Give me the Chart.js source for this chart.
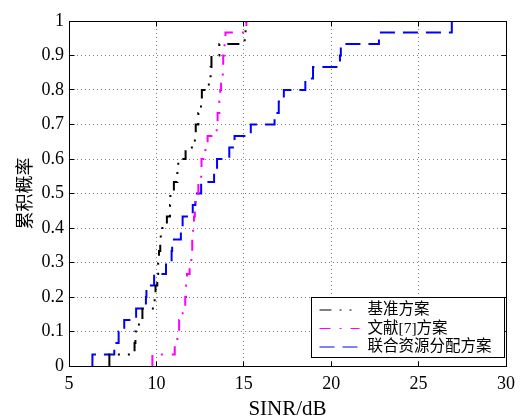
<!DOCTYPE html>
<html>
<head>
<meta charset="utf-8">
<script src="https://cdn.jsdelivr.net/npm/chart.js@4.4.1/dist/chart.umd.min.js"></script>
<style>
  html, body { margin: 0; padding: 0; background: #fff; }
  #wrap { width: 522px; height: 420px; }
</style>
</head>
<body>
<div id="wrap"><canvas id="myChart" width="522" height="420"></canvas></div>
<script>
// sorted SINR samples (dB)
const seriesNames = ['基准方案', '文献[7]方案', '联合资源分配方案'];
const baselineSinr = [7.31, 8.75, 8.8, 9.0, 9.2, 9.9, 9.95, 10.05, 10.1, 10.15,
  10.22, 10.25, 10.6, 10.78, 10.8, 11.0, 11.2, 11.25, 11.67, 12.2,
  12.25, 12.4, 12.55, 12.6, 13.0, 13.1, 13.15, 13.6, 15.05, 15.1];
const ref7Sinr = [9.77, 11.05, 11.2, 11.3, 11.5, 11.65, 11.7, 11.75, 11.9, 12.0,
  12.05, 12.1, 12.15, 12.2, 12.25, 12.4, 12.56, 12.58, 12.8, 12.93,
  13.45, 13.5, 13.6, 13.65, 13.7, 13.8, 13.82, 13.9, 13.95, 15.15];
const jointSinr = [6.34, 7.59, 7.84, 8.16, 8.84, 9.4, 9.43, 9.87, 10.55, 10.87,
  10.9, 11.4, 11.5, 12.08, 12.23, 12.56, 13.3, 13.47, 14.17, 14.47,
  15.4, 16.76, 17.0, 17.29, 18.52, 18.96, 20.5, 20.55, 22.73, 26.9];

const xTicks = [5, 10, 15, 20, 25, 30];
const yTicks = [0, 0.1, 0.2, 0.3, 0.4, 0.5, 0.6, 0.7, 0.8, 0.9, 1];
const yTickLabels = ['0', '0.1', '0.2', '0.3', '0.4', '0.5', '0.6', '0.7', '0.8', '0.9', '1'];

function cdfPoints(samples) {
  const n = samples.length;
  const pts = [{x: samples[0], y: 0}];
  samples.forEach((v, i) => pts.push({x: v, y: (i + 1) / n}));
  return pts;
}

function alignPx(p) {
  return Math.round(p - 0.5) + 0.5;
}

// matlab style box, inward ticks and the legend inside the plot
const matlabFrame = {
  id: 'matlabFrame',
  afterDatasetsDraw(chart) {
    const {ctx, chartArea: a, scales: {x, y}} = chart;
    const l = alignPx(a.left), r = alignPx(a.right), t = alignPx(a.top), b = alignPx(a.bottom);
    ctx.save();
    ctx.strokeStyle = '#000';
    ctx.lineWidth = 1;
    ctx.setLineDash([]);
    ctx.beginPath();
    xTicks.forEach(v => {
      const px = alignPx(x.getPixelForValue(v));
      ctx.moveTo(px, b); ctx.lineTo(px, b - 5);
      ctx.moveTo(px, t); ctx.lineTo(px, t + 5);
    });
    yTicks.forEach(v => {
      const py = alignPx(y.getPixelForValue(v));
      ctx.moveTo(l, py); ctx.lineTo(l + 5, py);
      ctx.moveTo(r, py); ctx.lineTo(r - 5, py);
    });
    ctx.stroke();
    ctx.strokeRect(l, t, r - l, b - t);
    ctx.restore();
  },
  afterDraw(chart) {
    const {ctx, chartArea: a} = chart;
    const w = 193, h = 60;
    const right = alignPx(a.right - 1.5), bottom = alignPx(a.bottom - 9);
    const left = right - w, top = bottom - h;
    ctx.save();
    ctx.fillStyle = '#fff';
    ctx.fillRect(left, top, w, h);
    ctx.strokeStyle = '#000';
    ctx.lineWidth = 1;
    ctx.setLineDash([]);
    ctx.strokeRect(left, top, w, h);
    const rows = [12.5, 31, 49.5];
    chart.data.datasets.forEach((ds, i) => {
      const yy = top + rows[i];
      ctx.strokeStyle = ds.borderColor;
      ctx.lineWidth = ds.borderWidth;
      ctx.setLineDash(ds.borderDash);
      ctx.beginPath();
      ctx.moveTo(left + 8, yy);
      ctx.lineTo(left + 48, yy);
      ctx.stroke();
      ctx.fillStyle = '#000';
      ctx.font = '15.5px "Liberation Serif", "Noto Sans CJK SC"';
      ctx.textBaseline = 'middle';
      ctx.textAlign = 'left';
      ctx.fillText(ds.label, left + 56, yy);
    });
    ctx.restore();
  }
};

const ctx = document.getElementById('myChart');

new Chart(ctx, {
  type: 'scatter',
  data: {
    datasets: [{
      label: seriesNames[0],
      data: cdfPoints(baselineSinr),
      borderColor: '#000000',
      borderDash: [12, 8, 2, 8, 2, 8]
    }, {
      label: seriesNames[1],
      data: cdfPoints(ref7Sinr),
      borderColor: '#ff00ff',
      borderDash: [11, 9, 2, 9]
    }, {
      label: seriesNames[2],
      data: cdfPoints(jointSinr),
      borderColor: '#0000ff',
      borderDash: [15, 8]
    }]
  },
  options: {
    responsive: false,
    devicePixelRatio: 1,
    animation: false,
    layout: { padding: { top: 21, right: 14, bottom: 0, left: 0 } },
    datasets: {
      scatter: {
        showLine: true,
        stepped: 'before',
        pointRadius: 0,
        borderWidth: 2,
        fill: false
      }
    },
    plugins: {
      legend: { display: false },
      tooltip: { enabled: false }
    },
    scales: {
      x: {
        type: 'linear',
        min: 5,
        max: 30,
        afterBuildTicks: s => { s.ticks = xTicks.map(v => ({value: v})); },
        afterFit: s => { s.height = 54; },
        grid: { color: '#7f7f7f', lineWidth: 1, drawTicks: false },
        border: { display: false, dash: [1, 3] },
        ticks: {
          color: '#000',
          font: { family: 'Liberation Serif', size: 18 },
          padding: 7,
          maxRotation: 0
        },
        title: {
          display: true,
          text: 'SINR/dB',
          color: '#000',
          font: { family: 'Liberation Serif', size: 21, lineHeight: 1 },
          padding: { top: 0, bottom: 0 }
        }
      },
      y: {
        type: 'linear',
        min: 0,
        max: 1,
        afterBuildTicks: s => { s.ticks = yTicks.map(v => ({value: v})); },
        afterFit: s => { s.width = 69; },
        grid: { color: '#7f7f7f', lineWidth: 1, drawTicks: false },
        border: { display: false, dash: [1, 3] },
        ticks: {
          color: '#000',
          font: { family: 'Liberation Serif', size: 18 },
          padding: 5,
          callback: (v, i) => yTickLabels[i]
        },
        title: {
          display: true,
          text: '累积概率',
          color: '#000',
          font: { family: 'Noto Sans CJK SC', size: 18, lineHeight: 1 },
          padding: { top: 15.5, bottom: 0 }
        }
      }
    }
  },
  plugins: [matlabFrame]
});
</script>
</body>
</html>
